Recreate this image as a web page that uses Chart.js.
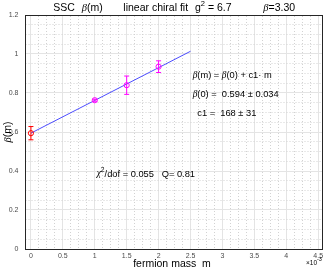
<!DOCTYPE html>
<html>
<head>
<meta charset="utf-8">
<script src="https://cdn.jsdelivr.net/npm/chart.js@4/dist/chart.umd.min.js"></script>
<style>
html,body{margin:0;padding:0;background:#fff;}
canvas{display:block;}
</style>
</head>
<body>
<canvas id="c" width="327" height="273"></canvas>
<script>
// ---- data ----
const extrapMass = [0];
const extrapBeta = [0.594];
const extrapErr  = [0.034];

const dataMass = [0.001, 0.0015, 0.002];
const dataBeta = [0.763, 0.840, 0.935];
const dataErr  = [0.005, 0.047, 0.030];

const fitB0 = 0.594;
const fitC1 = 168;
const fitRange = [0, 0.0025];

const xTickValues = [0, 0.0005, 0.001, 0.0015, 0.002, 0.0025, 0.003, 0.0035, 0.004, 0.0045];
const xTickLabels = ['0', '0.5', '1', '1.5', '2', '2.5', '3', '3.5', '4', '4.5'];
const yTickValues = [0, 0.2, 0.4, 0.6, 0.8, 1.0, 1.2];
const yTickLabels = ['0', '0.2', '0.4', '0.6', '0.8', '1', '1.2'];
const xMinorStep = 0.000125;
const yMinorStep = 0.05;

// ---- helpers ----
function errorBarData(xs, ys, es) {
  const out = [];
  xs.forEach((x, i) => {
    out.push({x: x, y: ys[i] - es[i]});
    out.push({x: x, y: ys[i] + es[i]});
    out.push({x: x, y: null});
  });
  return out;
}
function points(xs, ys) { return xs.map((x, i) => ({x: x, y: ys[i]})); }
function minorTicks(lo, hi, step) {
  const n = Math.round((hi - lo) / step);
  const t = [];
  for (let i = 0; i <= n; i++) t.push({value: lo + i * step});
  return t;
}

const SANS = "'Liberation Sans', Arial, sans-serif";
const SERIF = "'Liberation Serif', 'Times New Roman', serif";

function segFont(s, size) {
  const sz = s.sup ? size * 0.72 : size;
  return (s.it ? 'italic ' : '') + sz + 'px ' + (s.it ? SERIF : SANS);
}
function richWidth(ctx, segs, size) {
  let w = 0;
  segs.forEach(s => { ctx.font = segFont(s, size); w += ctx.measureText(s.t).width; });
  return w;
}
function drawRich(ctx, x, y, segs, size, align) {
  ctx.save();
  ctx.textBaseline = 'middle';
  ctx.textAlign = 'left';
  ctx.fillStyle = '#000';
  let cx = x;
  if (align === 'center') cx -= richWidth(ctx, segs, size) / 2;
  segs.forEach(s => {
    ctx.font = segFont(s, size);
    const dy = s.sup ? -size * 0.42 : 0;
    ctx.fillText(s.t, cx, y + dy);
    cx += ctx.measureText(s.t).width;
  });
  ctx.restore();
}

const XMIN = -0.000085, XMAX = 0.00456;

const textPlugin = {
  id: 'texts',
  afterDraw(chart) {
    const ctx = chart.ctx;
    const xs = chart.scales.x, ys = chart.scales.y;
    const ca = chart.chartArea;
    // title
    const T = 10.5, ty = 8;
    drawRich(ctx, 53.3, ty, [{t: 'SSC'}], T);
    drawRich(ctx, 81.7, ty, [{t: 'β', it: 1}, {t: '(m)'}], T);
    drawRich(ctx, 123.3, ty, [{t: 'linear chiral fit'}], T);
    drawRich(ctx, 195, ty, [{t: 'g'}, {t: '2', sup: 1}, {t: ' = 6.7'}], T);
    drawRich(ctx, 263.3, ty, [{t: 'β', it: 1}, {t: '=3.30'}], T);
    // y axis label
    ctx.save();
    ctx.translate(8, (ca.top + ca.bottom) / 2);
    ctx.rotate(-Math.PI / 2);
    drawRich(ctx, 0, 0, [{t: 'β', it: 1}, {t: '(m)'}], 10.5, 'center');
    ctx.restore();
    // x axis label
    drawRich(ctx, 172, 264, [{t: 'fermion mass  m'}], 10.5, 'center');
    // exponent
    drawRich(ctx, 306, 263, [{t: '×10'}], 6.5);
    drawRich(ctx, 317, 259.5, [{t: '-3'}], 5.5);
    // fit annotations (anchored in data coordinates)
    const A = 9.3;
    drawRich(ctx, xs.getPixelForValue(0.002534), ys.getPixelForValue(0.8887),
      [{t: 'β', it: 1}, {t: '(m) = '}, {t: 'β', it: 1}, {t: '(0) + c1· m'}], A);
    drawRich(ctx, xs.getPixelForValue(0.002534), ys.getPixelForValue(0.7933),
      [{t: 'β', it: 1}, {t: '(0) =  0.594 ± 0.034'}], A);
    drawRich(ctx, xs.getPixelForValue(0.002606), ys.getPixelForValue(0.6959),
      [{t: 'c1 =  168 ± 31'}], A);
    drawRich(ctx, xs.getPixelForValue(0.001031), ys.getPixelForValue(0.3846),
      [{t: 'χ', it: 1}, {t: '2', sup: 1}, {t: '/dof = 0.055   Q= 0.81'}], A);
  }
};

const RED = '#ff0000', MAG = '#ff00ff', BLUE = '#2020ff';

new Chart(document.getElementById('c'), {
  type: 'scatter',
  data: {
    datasets: [
      { type: 'line', data: points(extrapMass, extrapBeta), showLine: false,
        pointStyle: 'circle', pointRadius: 2.6, borderColor: RED, backgroundColor: 'rgba(0,0,0,0)',
        pointBorderWidth: 1, order: 1 },
      { type: 'line', data: points(dataMass, dataBeta), showLine: false,
        pointStyle: 'circle', pointRadius: 2.6, borderColor: MAG, backgroundColor: 'rgba(0,0,0,0)',
        pointBorderWidth: 1, order: 1 },
      { type: 'line', data: errorBarData(extrapMass, extrapBeta, extrapErr), showLine: true, spanGaps: false,
        borderColor: RED, borderWidth: 1, pointStyle: 'line', pointRadius: 2.5, pointBorderWidth: 1,
        pointBorderColor: RED, order: 2 },
      { type: 'line', data: errorBarData(dataMass, dataBeta, dataErr), showLine: true, spanGaps: false,
        borderColor: MAG, borderWidth: 1, pointStyle: 'line', pointRadius: 2.5, pointBorderWidth: 1,
        pointBorderColor: MAG, order: 2 },
      { type: 'line', data: fitRange.map(m => ({x: m, y: fitB0 + fitC1 * m})), showLine: true,
        borderColor: BLUE, borderWidth: 0.8, pointRadius: 0, order: 3 }
    ]
  },
  options: {
    responsive: false,
    animation: false,
    events: [],
    layout: { padding: { top: 15, right: 4.5, left: 0, bottom: 0 } },
    plugins: { legend: { display: false }, tooltip: { enabled: false }, title: { display: false } },
    scales: {
      x: {
        type: 'linear', position: 'bottom', min: XMIN, max: XMAX,
        afterBuildTicks: s => { s.ticks = xTickValues.map(v => ({value: v})); },
        afterFit: s => { s.height = 24; },
        ticks: { callback: (v, i) => xTickLabels[i], autoSkip: false, maxRotation: 0,
                 font: { size: 7, family: SANS }, color: '#4a4a4a', padding: 3 },
        grid: { color: '#e4e4e4', lineWidth: 1, drawTicks: false },
        border: { color: '#262626', width: 1 }
      },
      y: {
        type: 'linear', position: 'left', min: 0, max: 1.2,
        afterBuildTicks: s => { s.ticks = yTickValues.map(v => ({value: v})); },
        afterFit: s => { s.width = 25.5; },
        ticks: { callback: (v, i) => yTickLabels[i], autoSkip: false,
                 font: { size: 7, family: SANS }, color: '#4a4a4a', padding: 7 },
        grid: { color: '#e4e4e4', lineWidth: 1, drawTicks: false },
        border: { color: '#262626', width: 1 }
      },
      xMinor: {
        type: 'linear', position: 'top', min: XMIN, max: XMAX,
        afterBuildTicks: s => { s.ticks = minorTicks(0, 0.0045, xMinorStep); },
        afterFit: s => { s.height = 0; },
        ticks: { display: false },
        grid: { color: c => (c.index % 4 === 0 ? 'rgba(0,0,0,0)' : '#d2d2d2'), lineWidth: 1, drawTicks: false },
        border: { display: true, color: '#262626', width: 1, dash: [1, 2] }
      },
      yMinor: {
        type: 'linear', position: 'right', min: 0, max: 1.2,
        afterBuildTicks: s => { s.ticks = minorTicks(0, 1.2, yMinorStep); },
        afterFit: s => { s.width = 0; },
        ticks: { display: false },
        grid: { color: c => (c.index % 4 === 0 ? 'rgba(0,0,0,0)' : '#d2d2d2'), lineWidth: 1, drawTicks: false },
        border: { display: true, color: '#262626', width: 1, dash: [1, 2] }
      }
    }
  },
  plugins: [textPlugin]
});
</script>
</body>
</html>
